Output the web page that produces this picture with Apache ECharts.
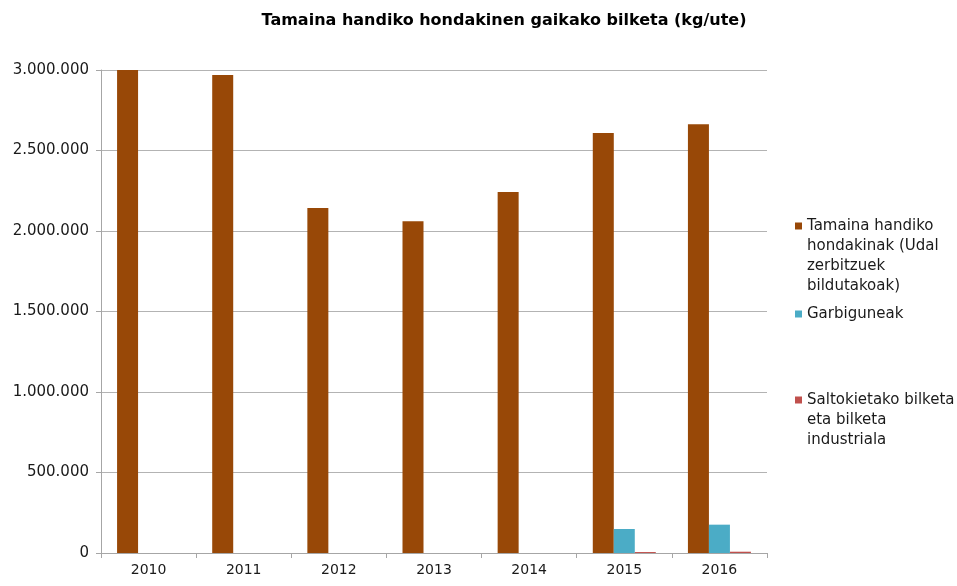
<!DOCTYPE html>
<html>
<head>
<meta charset="utf-8">
<script src="https://cdn.jsdelivr.net/npm/echarts@6/dist/echarts.min.js"></script>
<style>
	html, body {margin: 0; padding: 0; background: #fff;}
	#chart {width: 957px; height: 586px;}
</style>
</head>
<body>
<div id="chart"></div>
<script>
let years = ['2010', '2011', '2012', '2013', '2014', '2015', '2016'];
let seriesNames = [
	'Tamaina handiko hondakinak (Udal zerbitzuek bildutakoak)',
	'Garbiguneak',
	'Saltokietako bilketa eta bilketa industriala',
];
let legendLines = [
	['Tamaina handiko', 'hondakinak (Udal', 'zerbitzuek', 'bildutakoak)'],
	['Garbiguneak'],
	['Saltokietako bilketa', 'eta bilketa', 'industriala'],
];
let udalValues = [3006000, 2969000, 2143000, 2060000, 2242000, 2609000, 2663000];
let garbiguneValues = [null, null, null, null, null, 149000, 176000];
let saltokiValues = [null, null, null, null, null, 6000, 8000];
let colors = ['#984807', '#4bacc6', '#c0504d'];

let fmt = (v) => String(v).replace(/\B(?=(\d{3})+(?!\d))/g, '.');
let font = 'DejaVu Sans, sans-serif';

let chart = echarts.init(document.getElementById('chart'));

// one legend per item so each can sit where the original put it;
// blank lines in front keep the square level with the first text line
let legendTops = [151, 299, 345];
let legends = seriesNames.map((name, i) => ({
	data: [name],
	left: 790,
	top: legendTops[i],
	orient: 'vertical',
	itemWidth: 7,
	itemHeight: 7,
	icon: 'rect',
	selectedMode: false,
	formatter: () => {
		let lines = legendLines[i];
		return '\n'.repeat(lines.length - 1) + lines.join('\n');
	},
	textStyle: {
		fontFamily: font,
		fontSize: 15,
		color: '#1a1a1a',
		lineHeight: 20,
	},
}));

chart.setOption({
	animation: false,
	color: colors,
	title: {
		text: 'Tamaina handiko hondakinen gaikako bilketa (kg/ute)',
		left: 499,
		textAlign: 'center',
		top: 8,
		textStyle: {fontFamily: font, fontSize: 16, fontWeight: 'bold', color: '#000'},
	},
	legend: legends,
	grid: {left: 101, right: 190, top: 70, bottom: 33},
	xAxis: {
		type: 'category',
		data: years,
		axisLine: {lineStyle: {color: '#a6a6a6', width: 1}},
		axisTick: {show: true, length: 5, lineStyle: {color: '#a6a6a6'}},
		axisLabel: {fontFamily: font, fontSize: 14, color: '#1a1a1a', margin: 10},
	},
	yAxis: {
		type: 'value',
		min: 0,
		max: 3000000,
		interval: 500000,
		axisLine: {show: true, lineStyle: {color: '#a6a6a6', width: 1}},
		axisTick: {show: true, length: 5, lineStyle: {color: '#a6a6a6'}},
		axisLabel: {fontFamily: font, fontSize: 15, color: '#1a1a1a', margin: 12, formatter: fmt},
		splitLine: {lineStyle: {color: '#b3b3b3', width: 1}},
	},
	series: [
		{name: seriesNames[0], type: 'bar', data: udalValues, barWidth: 21, barGap: '0%'},
		{name: seriesNames[1], type: 'bar', data: garbiguneValues, barWidth: 21, barGap: '0%'},
		{name: seriesNames[2], type: 'bar', data: saltokiValues, barWidth: 21, barGap: '0%'},
	],
});
</script>
</body>
</html>
